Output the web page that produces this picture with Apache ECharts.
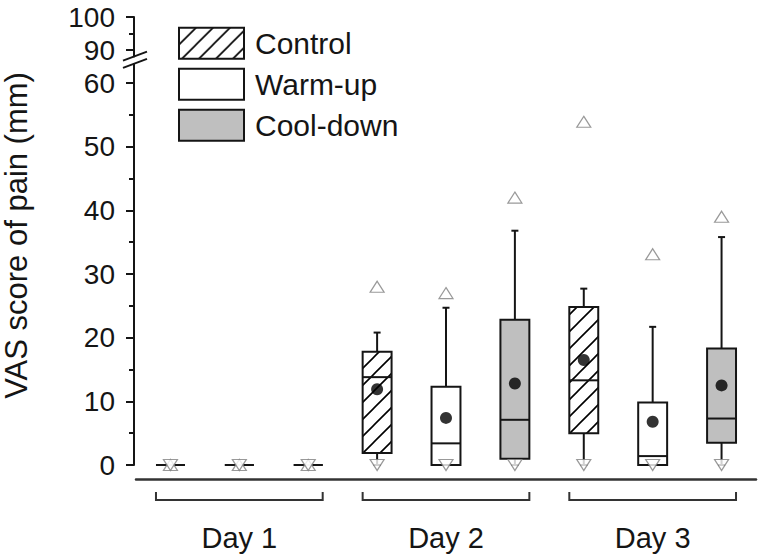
<!DOCTYPE html>
<html><head><meta charset="utf-8">
<script src="https://cdn.jsdelivr.net/npm/echarts@6/dist/echarts.min.js"></script>
<style>html,body{margin:0;padding:0;background:#fff}#c{width:759px;height:556px}</style>
</head><body><div id="c"></div>
<script>
// ---------- data ----------
const days = ['Day 1', 'Day 2', 'Day 3'];
const groups = ['Control', 'Warm-up', 'Cool-down'];
const yTicksLower = [0, 10, 20, 30, 40, 50, 60];
const yMinorLower = [5, 15, 25, 35, 45, 55];
const yTicksUpper = [90, 100];
const yMinorUpper = [95];

// per day: whisker low, Q1, median, Q3, whisker high, mean, min, max
const controlLow    = [0, 0, 0];
const controlQ1     = [0, 1.9, 5.0];
const controlMedian = [0, 13.8, 13.3];
const controlQ3     = [0, 17.8, 24.8];
const controlHigh   = [0, 20.8, 27.7];
const controlMean   = [null, 11.9, 16.5];
const controlMin    = [0, 0, 0];
const controlMax    = [0, 28.0, 53.9];

const warmLow    = [0, 0, 0];
const warmQ1     = [0, 0, 0];
const warmMedian = [0, 3.4, 1.4];
const warmQ3     = [0, 12.3, 9.8];
const warmHigh   = [0, 24.7, 21.7];
const warmMean   = [null, 7.4, 6.8];
const warmMin    = [0, 0, 0];
const warmMax    = [0, 27.0, 33.1];

const coolLow    = [0, 0, 0];
const coolQ1     = [0, 1.0, 3.5];
const coolMedian = [0, 7.1, 7.3];
const coolQ3     = [0, 22.8, 18.3];
const coolHigh   = [0, 36.8, 35.8];
const coolMean   = [null, 12.8, 12.5];
const coolMin    = [0, 0, 0];
const coolMax    = [0, 42.0, 39.0];

// ---------- styles / layout ----------
const FONT = "'Liberation Sans', Arial, Helvetica, sans-serif";
const INK = '#151515';
const LOWER_MAX = 63, UPPER_MIN = 88, UPPER_MAX = 100;
const GRID_LEFT = 136, AXIS_SHIFT = 2;
const BOX_RATIO = 0.42;

function makeHatch() {
  const s = 17;
  const c = document.createElement('canvas');
  c.width = s; c.height = s;
  const g = c.getContext('2d');
  g.fillStyle = '#fff'; g.fillRect(0, 0, s, s);
  g.strokeStyle = '#000'; g.lineWidth = 1.6;
  g.beginPath();
  g.moveTo(-2, s + 2); g.lineTo(s + 2, -2);
  g.moveTo(-2, 2); g.lineTo(2, -2);
  g.moveTo(s - 2, s + 2); g.lineTo(s + 2, s - 2);
  g.stroke();
  return { image: c, repeat: 'repeat', imageWidth: s, imageHeight: s };
}
const hatch = makeHatch();
const fills = [hatch, '#ffffff', '#bfbfbf'];

const sets = [
  { low: controlLow, q1: controlQ1, med: controlMedian, q3: controlQ3, high: controlHigh, mean: controlMean, min: controlMin, max: controlMax },
  { low: warmLow, q1: warmQ1, med: warmMedian, q3: warmQ3, high: warmHigh, mean: warmMean, min: warmMin, max: warmMax },
  { low: coolLow, q1: coolQ1, med: coolMedian, q3: coolQ3, high: coolHigh, mean: coolMean, min: coolMin, max: coolMax }
];
const slots = [];
days.forEach(d => groups.forEach(g => slots.push(d + ' ' + g)));

function boxRender(fill) {
  return function (params, api) {
    const x = api.value(0);
    const lo = api.coord([x, api.value(1)]);
    const q1 = api.coord([x, api.value(2)]);
    const md = api.coord([x, api.value(3)]);
    const q3 = api.coord([x, api.value(4)]);
    const hi = api.coord([x, api.value(5)]);
    const bw = api.size([1, 0])[0] * BOX_RATIO;
    const cx = lo[0];
    const ls = { stroke: INK, lineWidth: 2 };
    return {
      type: 'group',
      children: [
        { type: 'line', shape: { x1: cx, y1: q3[1], x2: cx, y2: hi[1] }, style: ls },
        { type: 'line', shape: { x1: cx, y1: q1[1], x2: cx, y2: lo[1] }, style: ls },
        { type: 'line', shape: { x1: cx - 3.5, y1: hi[1], x2: cx + 3.5, y2: hi[1] }, style: ls },
        { type: 'line', shape: { x1: cx - 3.5, y1: lo[1], x2: cx + 3.5, y2: lo[1] }, style: ls },
        { type: 'rect', shape: { x: cx - bw / 2, y: q3[1], width: bw, height: q1[1] - q3[1] },
          style: { fill: fill, stroke: INK, lineWidth: 2 } },
        { type: 'line', shape: { x1: cx - bw / 2, y1: md[1], x2: cx + bw / 2, y2: md[1] }, style: ls }
      ]
    };
  };
}

const series = [];
sets.forEach((s, gi) => {
  series.push({
    name: groups[gi], type: 'custom', xAxisIndex: 0, yAxisIndex: 0, z: 2,
    itemStyle: { color: fills[gi], borderColor: INK, borderWidth: 2 },
    renderItem: boxRender(fills[gi]),
    encode: { x: 0, y: [1, 2, 3, 4, 5] },
    data: days.map((d, di) => [di * 3 + gi, s.low[di], s.q1[di], s.med[di], s.q3[di], s.high[di]])
  });
});
sets.forEach((s, gi) => {
  series.push({
    name: groups[gi] + ' mean', type: 'scatter', xAxisIndex: 0, yAxisIndex: 0, z: 3, clip: false,
    symbol: 'circle', symbolSize: 12, itemStyle: { color: '#000' },
    data: days.map((d, di) => [di * 3 + gi, s.mean[di]]).filter(p => p[1] != null)
  });
  series.push({
    name: groups[gi] + ' max', type: 'scatter', xAxisIndex: 0, yAxisIndex: 0, z: 4, clip: false,
    symbol: 'triangle', symbolSize: [14, 11],
    itemStyle: { color: '#fff', borderColor: '#808080', borderWidth: 1.2 },
    data: days.map((d, di) => [di * 3 + gi, s.max[di]])
  });
  series.push({
    name: groups[gi] + ' min', type: 'scatter', xAxisIndex: 0, yAxisIndex: 0, z: 4, clip: false,
    symbol: 'triangle', symbolSize: [14, 11], symbolRotate: 180,
    itemStyle: { color: '#fff', borderColor: '#808080', borderWidth: 1.2 },
    data: days.map((d, di) => [di * 3 + gi, s.min[di]])
  });
});
// group brackets
series.push({
  name: 'brackets', type: 'custom', xAxisIndex: 0, yAxisIndex: 0, z: 1,
  renderItem: function (params, api) {
    const i = api.value(0);
    const a = api.coord([i, 0]);
    const b = api.coord([i + 2, 0]);
    const bw = api.size([1, 0])[0] * BOX_RATIO;
    const y0 = a[1];
    return {
      type: 'polyline',
      shape: { points: [[a[0] - bw / 2, y0 + 27], [a[0] - bw / 2, y0 + 35], [b[0] + bw / 2, y0 + 35], [b[0] + bw / 2, y0 + 27]] },
      style: { stroke: '#333', lineWidth: 2, fill: null }
    };
  },
  data: days.map((d, di) => [di * 3, 0])
});

const chart = echarts.init(document.getElementById('c'), null, { renderer: 'svg' });
const lowerTop = 465 - LOWER_MAX * (382 / 60);
chart.setOption({
  animation: false,
  backgroundColor: '#fff',
  textStyle: { fontFamily: FONT },
  grid: [
    { left: GRID_LEFT, right: 3, top: lowerTop, bottom: 556 - 465, outerBoundsMode: 'none', containLabel: false },
    { left: GRID_LEFT, right: 3, top: 17, bottom: 556 - (17 + (UPPER_MAX - UPPER_MIN) * 3.3), outerBoundsMode: 'none', containLabel: false }
  ],
  legend: {
    orient: 'vertical', left: 178, top: 26.7, padding: 0,
    itemWidth: 65, itemHeight: 31, itemGap: 8, icon: 'rect', selectedMode: false,
    textStyle: { fontSize: 30, color: INK, fontFamily: FONT, padding: [0, 0, 0, 6] },
    data: groups.map((g, i) => ({ name: g, itemStyle: { color: fills[i], borderColor: INK, borderWidth: 2 } }))
  },
  xAxis: [
    { type: 'category', gridIndex: 0, data: slots, position: 'bottom', offset: 14,
      axisLine: { onZero: false, lineStyle: { color: '#333', width: 2.5 } },
      axisTick: { show: false }, axisLabel: { show: false }, splitLine: { show: false } },
    { type: 'category', gridIndex: 0, data: days, position: 'bottom', offset: 0,
      axisLine: { show: false, onZero: false }, axisTick: { show: false },
      axisLabel: { fontSize: 29, color: INK, fontFamily: FONT, margin: 58 }, splitLine: { show: false } },
    { type: 'category', gridIndex: 1, data: slots, show: false }
  ],
  yAxis: [
    { type: 'value', gridIndex: 0, min: 0, max: LOWER_MAX, position: 'left', offset: AXIS_SHIFT,
      name: 'VAS score of pain (mm)', nameLocation: 'middle', nameRotate: 90, nameGap: 102,
      nameTextStyle: { fontSize: 31, lineHeight: 31, color: INK, fontFamily: FONT, padding: [0, 0, 0, 58] },
      axisLine: { show: true, lineStyle: { color: INK, width: 2 } },
      axisTick: { show: true, length: 8, lineStyle: { color: INK, width: 2 }, customValues: yTicksLower },
      axisLabel: { fontSize: 28, color: INK, fontFamily: FONT, margin: 19, customValues: yTicksLower },
      splitLine: { show: false } },
    { type: 'value', gridIndex: 0, min: 0, max: LOWER_MAX, position: 'left', offset: AXIS_SHIFT,
      axisLine: { show: false },
      axisTick: { show: true, length: 5, lineStyle: { color: INK, width: 2 }, customValues: yMinorLower },
      axisLabel: { show: false }, splitLine: { show: false } },
    { type: 'value', gridIndex: 1, min: UPPER_MIN, max: UPPER_MAX, position: 'left', offset: AXIS_SHIFT,
      axisLine: { show: true, lineStyle: { color: INK, width: 2 } },
      axisTick: { show: true, length: 8, lineStyle: { color: INK, width: 2 }, customValues: yTicksUpper },
      axisLabel: { fontSize: 28, color: INK, fontFamily: FONT, margin: 19, customValues: yTicksUpper },
      splitLine: { show: false } },
    { type: 'value', gridIndex: 1, min: UPPER_MIN, max: UPPER_MAX, position: 'left', offset: AXIS_SHIFT,
      axisLine: { show: false },
      axisTick: { show: true, length: 5, lineStyle: { color: INK, width: 2 }, customValues: yMinorUpper },
      axisLabel: { show: false }, splitLine: { show: false } }
  ],
  series: series
});

// axis-break marks at the ends of the two axis segments
const ax = GRID_LEFT - AXIS_SHIFT;
const yLowEnd = chart.convertToPixel({ yAxisIndex: 0 }, LOWER_MAX);
const yUpEnd = chart.convertToPixel({ yAxisIndex: 2 }, UPPER_MIN);
chart.setOption({
  graphic: [yUpEnd, yLowEnd].map(y => ({
    type: 'line', shape: { x1: ax - 11, y1: y + 4, x2: ax + 13, y2: y - 5 },
    style: { stroke: INK, lineWidth: 2 }, z: 10
  }))
});
</script></body></html>
